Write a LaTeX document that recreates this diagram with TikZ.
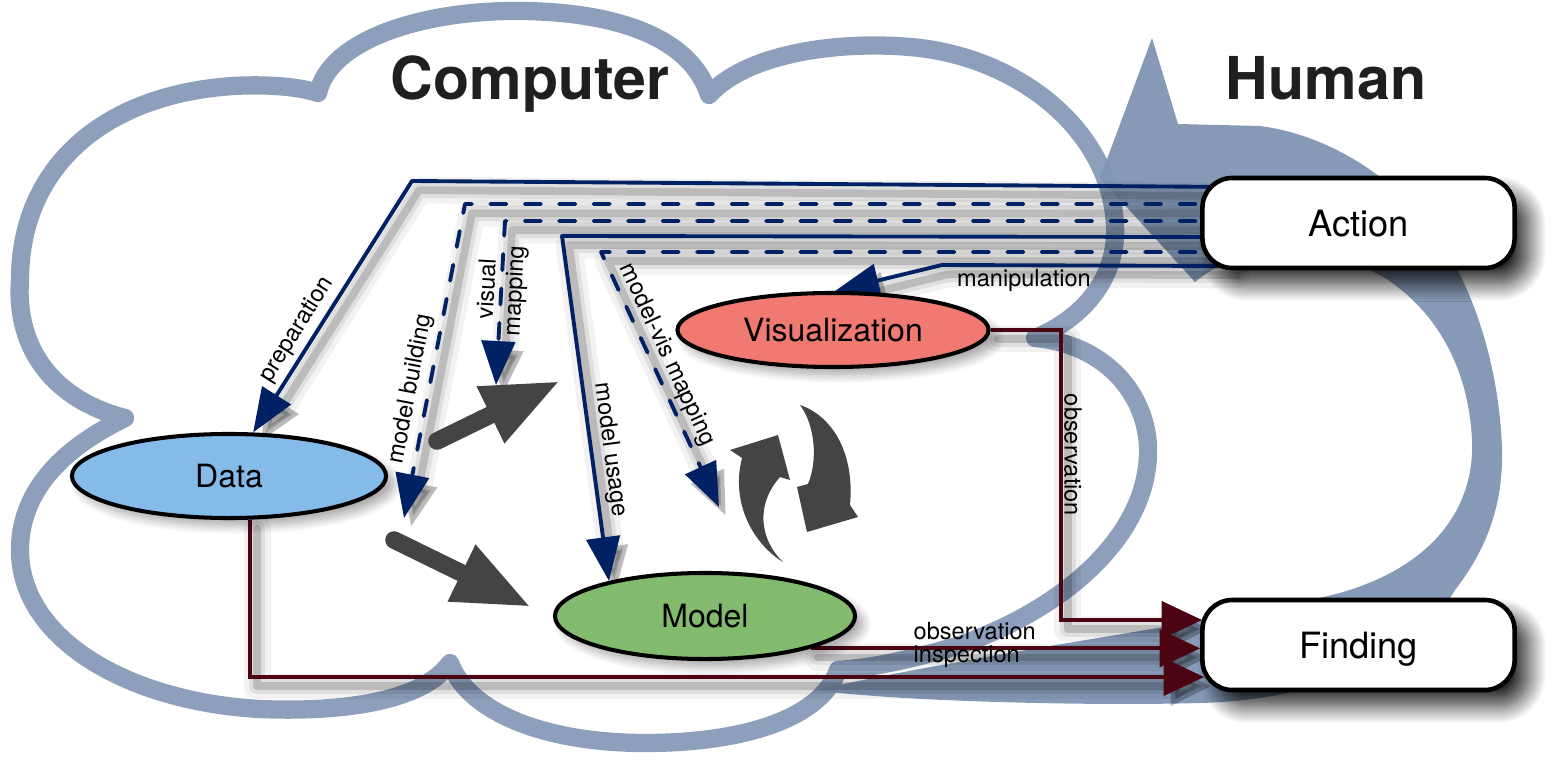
\documentclass[tikz,border=0pt]{standalone}
\usepackage{fontspec}
\setmainfont{TeX Gyre Heros}
\usetikzlibrary{arrows.meta,shapes.geometric,shadows.blur,calc}
\pgfdeclarelayer{back}
\pgfdeclarelayer{shad}
\pgfdeclarelayer{lines}
\pgfsetlayers{back,shad,lines,main}
\definecolor{cloudc}{RGB}{141,159,187}
\definecolor{humanc}{RGB}{127,149,179}
\definecolor{navy}{RGB}{0,33,99}
\definecolor{maroon}{RGB}{74,4,18}
\definecolor{darkg}{RGB}{68,68,68}
\definecolor{datac}{RGB}{133,187,232}
\definecolor{visc}{RGB}{240,122,114}
\definecolor{modelc}{RGB}{130,187,110}
\begin{document}
\begin{tikzpicture}[x=0.01cm,y=-0.01cm,
  ell/.style={ellipse, draw=black, line width=1.15pt, inner sep=0pt, text depth=0pt,
    font=\fontsize{9.1}{11}\selectfont,
    blur shadow={shadow xshift=2.2pt, shadow yshift=-2.2pt, shadow blur radius=2.5pt, shadow blur steps=12, shadow opacity=35}},
  hbox/.style={rectangle, rounded corners=8.5pt, draw=black, line width=1.3pt, fill=white,
    minimum width=3.12cm, minimum height=0.9cm, text depth=0pt,
    font=\fontsize{10.3}{12}\selectfont,
    blur shadow={shadow xshift=4pt, shadow yshift=-4.5pt, shadow blur radius=5pt, shadow blur steps=20, shadow opacity=85}},
  ttl/.style={font=\bfseries\fontsize{16.8}{20}\selectfont, text=black!88, inner sep=0pt},
  lab/.style={font=\fontsize{6.7}{7.8}\selectfont, inner sep=0pt},
  navl/.style={draw=navy, line width=1.1pt, line join=round},
  navd/.style={navl, dash pattern=on 4.6pt off 5.2pt, line cap=round},
  navtip/.style={-{Triangle[length=12.5pt,width=9.5pt]}},
  marl/.style={draw=maroon, line width=1.15pt, -{Triangle[length=11.5pt,width=10.5pt]}},
  shA/.style={draw=black, solid, opacity=0.16, line width=2.2pt, line cap=round, line join=round},
  shB/.style={draw=black, solid, opacity=0.08, line width=4.5pt, line cap=round, line join=round},
  shC/.style={draw=black, solid, opacity=0.05, line width=7.5pt, line cap=round, line join=round},
  garrow/.style={draw=darkg, line width=5pt, line cap=round, -{Triangle[length=22pt,width=16.5pt]}},
]
\useasboundingbox (0,0) rectangle (1552,764);

% ---------- nodes ----------
\node[hbox] (Action) at (1358.5,223) {Action};
\node[hbox] (Finding) at (1358.5,645) {Finding};
\node[ell, fill=visc, minimum width=3.11cm, minimum height=0.74cm] (Vis) at (833,330) {Visualization};
\node[ell, fill=datac, minimum width=3.14cm, minimum height=0.84cm] (Data) at (229,476) {Data};
\node[ell, fill=modelc, minimum width=3.0cm, minimum height=0.86cm] (Model) at (705,616) {Model};
\node[ttl, anchor=base] (comp) at (530,100) {Computer};
\node[ttl, anchor=base] (hum) at (1326,100) {Human};

% free ends
\coordinate (bt) at (404,518);
\coordinate (vt) at (496,385);
\coordinate (mt) at (719,507);
\coordinate (g1s) at (437,441);
\coordinate (g1e) at (560,381);
\coordinate (g2s) at (394,540);
\coordinate (g2e) at (531,607);

% ---------- background: cloud and human arrow ----------
\begin{pgfonlayer}{back}
\draw[cloudc, line width=5.2pt, line join=round]
  (125,418) .. controls (55,400) and (15,350) .. (20,280)
  .. controls (20,170) and (100,95) .. (233,86)
  .. controls (270,84) and (300,87) .. (318,93)
  .. controls (330,40) and (420,12) .. (510,11)
  .. controls (610,10) and (690,35) .. (709,95)
  .. controls (750,50) and (850,40) .. (920,48)
  .. controls (1020,60) and (1110,130) .. (1115,225)
  .. controls (1118,280) and (1080,320) .. (1035,338)
  .. controls (1110,345) and (1150,400) .. (1148,455)
  .. controls (1145,540) and (1060,610) .. (960,645)
  .. controls (910,660) and (870,668) .. (838,670)
  .. controls (820,720) and (740,743) .. (645,743)
  .. controls (550,743) and (470,715) .. (450,663)
  .. controls (420,705) and (330,712) .. (260,709)
  .. controls (130,702) and (20,640) .. (20,550)
  .. controls (20,480) and (80,440) .. (125,418) -- cycle;
\fill[humanc, opacity=0.95]
  (815,690) .. controls (900,702) and (1100,706) .. (1200,703)
  .. controls (1330,700) and (1420,650) .. (1455,590)
  .. controls (1490,545) and (1503,500) .. (1502,450)
  .. controls (1500,380) and (1480,300) .. (1440,240)
  .. controls (1400,180) and (1330,135) .. (1260,126)
  -- (1178,124) -- (1152,38) -- (1100,178) -- (1195,282)
  .. controls (1260,230) and (1330,250) .. (1380,275)
  .. controls (1430,305) and (1468,360) .. (1472,440)
  .. controls (1475,510) and (1430,570) .. (1332,595)
  .. controls (1200,625) and (1000,650) .. (815,690) -- cycle;
\end{pgfonlayer}

% ---------- connector paths ----------
\def\Pprep{([xshift=.3cm,yshift=.36cm]Action.west) -- (412,181) -- (Data.61)}
\def\Pbuild{([xshift=.3cm,yshift=.19cm]Action.west) -- (465,204) -- (bt)}
\def\Pvis{([xshift=.3cm,yshift=.02cm]Action.west) -- (505,221) -- (vt)}
\def\Pusage{([xshift=.3cm,yshift=-.14cm]Action.west) -- (562,236) -- (Model.160)}
\def\Pmvm{([xshift=.3cm,yshift=-.29cm]Action.west) -- (601,252) -- (mt)}
\def\Pmanip{([xshift=.3cm,yshift=-.43cm]Action.west) -- (942,265) -- (Vis.87)}
\def\Pobsv{(Vis.east) -- ++(70,0) |- ([xshift=.02cm,yshift=.25cm]Finding.west)}
\def\Pobsm{(Model.-17) -- (Model.-17 -| Finding.west)}
\def\Pinsp{(Data.-64) |- ([xshift=.04cm,yshift=-.32cm]Finding.west)}

\begin{pgfonlayer}{shad}
\begin{scope}[transform canvas={shift={(2pt,-2.6pt)}}]
  \foreach \s in {shC,shB,shA}{
    \draw[navl,navtip,\s] \Pprep;
    \draw[navl,navtip,\s] \Pbuild;
    \draw[navl,navtip,\s] \Pvis;
    \draw[navl,navtip,\s] \Pusage;
    \draw[navl,navtip,\s] \Pmvm;
    \draw[navl,navtip,\s] \Pmanip;
    \draw[marl,\s] \Pobsv;
    \draw[marl,\s] \Pobsm;
    \draw[marl,\s] \Pinsp;
  }
\end{scope}
\end{pgfonlayer}

\begin{pgfonlayer}{lines}
\draw[navl,navtip] \Pprep;
\draw[navd,navtip] \Pbuild;
\draw[navd,navtip] \Pvis;
\draw[navl,navtip] \Pusage;
\draw[navd,navtip] \Pmvm;
\draw[navl,navtip] \Pmanip;
\draw[marl] \Pobsv;
\draw[marl] \Pobsm;
\draw[marl] \Pinsp;

% gray process arrows
\draw[garrow] (g1s) -- (g1e);
\draw[garrow] (g2s) -- (g2e);
\fill[darkg] (783,562) .. controls (755,545) and (730,505) .. (742,458)
  -- (730,450) -- (778,435) -- (790,480) -- (780,477)
  .. controls (755,505) and (760,540) .. (783,562) -- cycle;
\fill[darkg] (800,405) .. controls (830,415) and (855,450) .. (850,505)
  -- (858,517) -- (807,532) -- (797,487) -- (808,484)
  .. controls (818,460) and (815,425) .. (800,405) -- cycle;

% labels
\node[lab, rotate=57.8] (lprep) at (297,330) {preparation};
\node[lab, rotate=79.2] (lbuild) at (411,389) {model building};
\node[lab, rotate=86.9, align=center] (lvis) at (502,290) {visual\\mapping};
\node[lab, rotate=-82.4] (lusage) at (610,450) {model usage};
\node[lab, rotate=-65] (lmvm) at (667,355) {model-vis mapping};
\node[lab, anchor=base] (lmanip) at (1024,287) {manipulation};
\node[lab, rotate=-90] (lobs1) at (1073,455) {observation};
\node[lab, anchor=base west] (lobs2) at (913,639) {observation};
\node[lab, anchor=base west] (linsp) at (913,662) {inspection};
\end{pgfonlayer}
\end{tikzpicture}
\end{document}
